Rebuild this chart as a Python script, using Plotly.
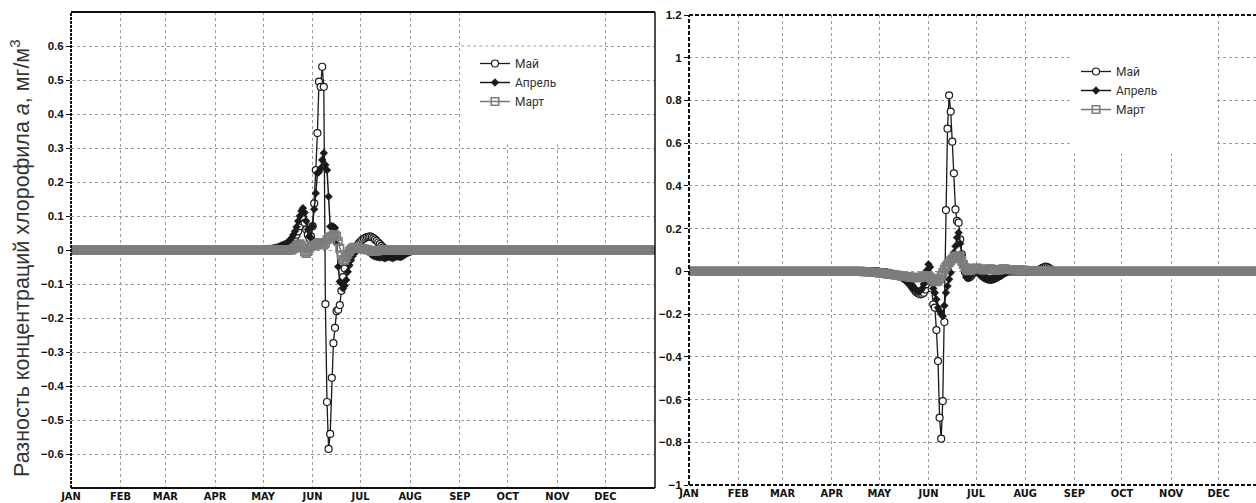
import plotly.graph_objects as go

# ---- calendar axis -------------------------------------------------------
N_DAYS = 365
MONTHS = ["JAN", "FEB", "MAR", "APR", "MAY", "JUN",
          "JUL", "AUG", "SEP", "OCT", "NOV", "DEC"]
MONTH_START = [0, 31, 59, 90, 120, 151, 181, 212, 243, 273, 304, 334]

# ---- left panel: daily differences, non-zero part only -------------------
may_left_start = 125
may_left = [0.001, 0.002, 0.002, 0.003, 0.004, 0.005, 0.006, 0.008, 0.01, 0.012,
            0.014, 0.016, 0.02, 0.024, 0.03,
            0.036, 0.045, 0.055, 0.07, 0.085, 0.095, 0.08, 0.06, 0.045, 0.035,
            0.04, 0.07,
            0.137, 0.235, 0.344, 0.495, 0.48, 0.539, 0.48,
            -0.159, -0.447, -0.585, -0.541, -0.376, -0.274, -0.229, -0.18, -0.176, -0.162,
            -0.12, -0.08, -0.054, -0.035, -0.02, -0.01, -0.004, 0.0, 0.003, 0.008,
            0.014, 0.02, 0.025, 0.03, 0.033, 0.036, 0.038, 0.039, 0.04, 0.038,
            0.035, 0.031, 0.027, 0.022, 0.017, 0.012, 0.008, 0.004, 0.0, -0.004,
            -0.007, -0.009, -0.01, -0.01, -0.009, -0.008, -0.006, -0.004, -0.002, 0.0]

apr_left_start = 120
apr_left = [0.001, 0.001, 0.002, 0.002, 0.003, 0.004, 0.005, 0.006, 0.007, 0.008,
            0.01, 0.012, 0.014, 0.016, 0.018, 0.021, 0.025, 0.03, 0.036, 0.045,
            0.055, 0.068, 0.085, 0.1, 0.115, 0.123, 0.11, 0.085, 0.06, 0.04,
            0.035, 0.07, 0.12, 0.167, 0.226, 0.23, 0.24, 0.265, 0.285, 0.25,
            0.235, 0.157, 0.069, 0.07, 0.069, 0.065, 0.02, -0.049, -0.093, -0.098,
            -0.113, -0.105, -0.088, -0.064, -0.045, -0.03, -0.018, -0.01, -0.004, 0.0,
            0.003, 0.005, 0.006, 0.005, 0.002, -0.002, -0.006, -0.01, -0.014, -0.017,
            -0.019, -0.02, -0.021, -0.022, -0.02, -0.022, -0.024, -0.023, -0.021, -0.02,
            -0.022, -0.024, -0.022, -0.02, -0.019, -0.02, -0.021, -0.019, -0.016, -0.013,
            -0.01, -0.008, -0.006, -0.004, -0.002, 0.0]

mar_left_start = 138
mar_left = [0.0, 0.004, 0.008, 0.012, 0.016, 0.018, 0.014, 0.005, -0.006, -0.01,
            -0.004, 0.006, 0.012, 0.014, 0.012, 0.015, 0.02, 0.022, 0.02, 0.016,
            0.015, 0.02, 0.03, 0.035, 0.038, 0.04, 0.045, 0.045, 0.04, 0.025,
            0.005, -0.015, -0.028, -0.03, -0.022, -0.012, -0.004, 0.002, 0.006, 0.008,
            0.008, 0.007, 0.006, 0.005, 0.004, 0.003, 0.002, 0.001, 0.0, -0.002,
            -0.003, -0.004, -0.004, -0.003, -0.002, -0.001, 0.0]

# ---- right panel ----------------------------------------------------------
may_right_start = 118
may_right = [-0.001, -0.002, -0.002, -0.003, -0.004, -0.005, -0.006, -0.007, -0.008, -0.01,
             -0.012, -0.014, -0.016, -0.018, -0.02, -0.023, -0.026, -0.03, -0.035, -0.04,
             -0.048, -0.056,
             -0.065, -0.075, -0.085, -0.095, -0.1, -0.105, -0.108, -0.105, -0.1, -0.085,
             -0.06, -0.04, -0.045, -0.08, -0.155, -0.17, -0.275, -0.42, -0.685, -0.783,
             -0.607, -0.237, 0.287, 0.668, 0.824, 0.748, 0.607, 0.459, 0.29, 0.236,
             0.228, 0.15, 0.08, 0.035, 0.0, -0.02, -0.03, -0.028, -0.02, -0.01,
             0.0, 0.005, 0.0, -0.008, -0.015, -0.022, -0.028, -0.032, -0.035, -0.037,
             -0.038, -0.037, -0.035, -0.032, -0.028, -0.024, -0.02, -0.015, -0.01, -0.006,
             -0.003, 0.0, 0.0, 0.0, 0.0, 0.0, 0.0, 0.0, 0.0, 0.0,
             0.0, 0.0, 0.0, 0.0, 0.0, 0.0, 0.0, 0.0, 0.0, 0.002,
             0.005, 0.008, 0.012, 0.016, 0.02, 0.022, 0.02, 0.015, 0.01, 0.005, 0.0]

apr_right_start = 120
apr_right = [-0.001, -0.002, -0.002, -0.003, -0.004, -0.005, -0.006, -0.008, -0.01, -0.012,
             -0.014, -0.017, -0.02, -0.024, -0.028, -0.033, -0.038, -0.044, -0.05, -0.058,
             -0.066, -0.075, -0.082, -0.088, -0.092, -0.094, -0.09, -0.08, -0.06, -0.03,
             0.005, 0.033, 0.02, -0.03, -0.08, -0.1, -0.131, -0.17, -0.186, -0.2,
             -0.209, -0.16, -0.1, -0.069, -0.037, -0.006, 0.064, 0.088, 0.118, 0.158,
             0.181, 0.13, 0.075, 0.025, -0.01, -0.028, -0.032, -0.026, -0.015, -0.005,
             0.002, 0.004, 0.0, -0.008, -0.016, -0.024, -0.03, -0.035, -0.038, -0.04,
             -0.041, -0.04, -0.038, -0.035, -0.031, -0.027, -0.022, -0.017, -0.012, -0.008,
             -0.004, -0.001, 0.0]

mar_right_start = 110
mar_right = [-0.001, -0.002, -0.002, -0.003, -0.003, -0.004, -0.004, -0.005, -0.005, -0.006,
             -0.007, -0.008, -0.009, -0.01, -0.011, -0.012, -0.013, -0.014, -0.015, -0.016,
             -0.017, -0.018, -0.019, -0.02, -0.021, -0.022, -0.023, -0.024, -0.025, -0.026,
             -0.027, -0.028, -0.029, -0.03, -0.03, -0.03, -0.028, -0.025, -0.022, -0.02,
             -0.02, -0.022, -0.028, -0.035, -0.042, -0.046, -0.048, -0.045, -0.035, -0.02,
             -0.005, 0.01, 0.022, 0.03, 0.04, 0.05, 0.058, 0.064, 0.07, 0.072,
             0.07, 0.062, 0.048, 0.032, 0.018, 0.008, 0.003, 0.004, 0.008, 0.012,
             0.014, 0.015, 0.014, 0.012, 0.01, 0.008, 0.007, 0.008, 0.01, 0.012,
             0.012, 0.01, 0.008, 0.006, 0.005, 0.006, 0.008, 0.01, 0.012, 0.012,
             0.01, 0.009, 0.009, 0.008, 0.008, 0.008, 0.007, 0.007, 0.006, 0.006,
             0.006, 0.005, 0.005, 0.004, 0.004, 0.004, 0.003, 0.003, 0.002, 0.002,
             0.002, 0.001, 0.001, 0.0, 0.0, 0.0]

SERIES_NAMES = ["Май", "Апрель", "Март"]


def daily(start, values):
    """Full-year daily series: zero outside the listed stretch."""
    out = [0.0] * N_DAYS
    for i, v in enumerate(values):
        out[start + i] = v
    return out


days = list(range(N_DAYS))

INK = "#1a1a1a"
GREY = "#7d7d7d"
STYLES = {
    "Май": dict(line=dict(color=INK, width=1.3),
                marker=dict(symbol="circle", size=7, color="white",
                            line=dict(color=INK, width=1.2))),
    "Апрель": dict(line=dict(color=INK, width=1.5),
                   marker=dict(symbol="diamond", size=6, color=INK,
                               line=dict(color=INK, width=0.5))),
    "Март": dict(line=dict(color=GREY, width=1.6),
                 marker=dict(symbol="square-open", size=7.5, color=GREY,
                             line=dict(color=GREY, width=1.6))),
}

panels = [
    ("x", "y", "legend",
     [daily(may_left_start, may_left), daily(apr_left_start, apr_left),
      daily(mar_left_start, mar_left)]),
    ("x2", "y2", "legend2",
     [daily(may_right_start, may_right), daily(apr_right_start, apr_right),
      daily(mar_right_start, mar_right)]),
]

fig = go.Figure()
for xa, ya, lg, series in panels:
    for name, vals in zip(SERIES_NAMES, series):
        fig.add_trace(go.Scatter(
            x=days, y=vals, name=name, mode="lines+markers",
            xaxis=xa, yaxis=ya, legend=lg, **STYLES[name]))

W, H = 1256, 503


def px_x(p):
    return p / W


def px_y(p):
    return 1 - p / H


tick_font_y = dict(family="Liberation Sans, Arial, sans-serif", size=11.5,
                   color="#111", weight="bold")
tick_font_x = dict(family="Liberation Sans Narrow, DejaVu Sans Condensed, Arial Narrow, sans-serif",
                   size=11, color="#111", weight="bold")
grid = dict(showgrid=True, gridcolor="#9a9a9a", gridwidth=1.2, griddash="dot",
            zeroline=False, showline=False, automargin=False)

left_y_vals = [-0.6, -0.5, -0.4, -0.3, -0.2, -0.1, 0, 0.1, 0.2, 0.3, 0.4, 0.5, 0.6]
right_y_vals = [-1, -0.8, -0.6, -0.4, -0.2, 0, 0.2, 0.4, 0.6, 0.8, 1, 1.2]


def fmt(v):
    s = f"{v:g}"
    return s.replace("-", "\u2212")


y_ticks = dict(ticks="outside", ticklen=4, tickcolor="#111", tickwidth=1.3)
x_ticks = dict(ticks="")

fig.update_layout(
    width=W, height=H,
    margin=dict(l=0, r=0, t=0, b=0),
    paper_bgcolor="white", plot_bgcolor="white",
    xaxis=dict(domain=[px_x(71), px_x(655)], range=[0, 365], anchor="y",
               tickvals=MONTH_START, ticktext=MONTHS, tickfont=tick_font_x,
               **x_ticks, **grid),
    yaxis=dict(domain=[px_y(488), px_y(12)], range=[-0.7, 0.7], anchor="x",
               tickvals=left_y_vals, ticktext=[fmt(v) for v in left_y_vals],
               tickfont=tick_font_y, **y_ticks, **grid),
    xaxis2=dict(domain=[px_x(689), 1.0], range=[0, 357.5], anchor="y2",
                tickvals=MONTH_START, ticktext=MONTHS, tickfont=tick_font_x,
                **x_ticks, **grid),
    yaxis2=dict(domain=[px_y(485), px_y(15)], range=[-1, 1.2], anchor="x2",
                tickvals=right_y_vals, ticktext=[fmt(v) for v in right_y_vals],
                tickfont=tick_font_y, **y_ticks, **grid),
    legend=dict(x=px_x(475), y=px_y(49), xanchor="left", yanchor="top",
                bgcolor="rgba(0,0,0,0)",
                font=dict(family="Roboto, Arial, sans-serif", size=12, color="#333")),
    legend2=dict(x=px_x(1076), y=px_y(57), xanchor="left", yanchor="top",
                 bgcolor="rgba(0,0,0,0)",
                 font=dict(family="Roboto, Arial, sans-serif", size=12, color="#333")),
    showlegend=True,
)

shapes = []
# blank patches under the legends
shapes.append(dict(type="rect", xref="x", yref="y", x0=244, x1=332.5, y0=0.31, y1=0.7,
                   fillcolor="white", line=dict(width=0), layer="between"))
shapes.append(dict(type="line", xref="x", yref="y", x0=244, x1=332.5, y0=0.6, y1=0.6,
                   line=dict(color="#9a9a9a", width=1.2, dash="dot"), layer="between"))
shapes.append(dict(type="rect", xref="x2", yref="y2", x0=240, x1=331, y0=0.55, y1=1.2,
                   fillcolor="white", line=dict(width=0), layer="between"))


# frames
def edge(xr, yr, x0, y0, x1, y1, dash="solid", width=2):
    return dict(type="line", xref=xr, yref=yr, x0=x0, y0=y0, x1=x1, y1=y1,
                line=dict(color="#111", width=width, dash=dash), layer="above")


shapes += [
    edge("x domain", "y domain", 0, 1, 1, 1),
    edge("x domain", "y domain", 0, 0, 1, 0),
    edge("x domain", "y domain", 1, 0, 1, 1, width=1.5),
    edge("x domain", "y domain", 0, 0, 0, 1, dash="3px,1px"),
    edge("x2 domain", "y2 domain", 0, 1, 1, 1, dash="4px,2px"),
    edge("x2 domain", "y2 domain", 0, 0, 1, 0, dash="4px,2px"),
    edge("x2 domain", "y2 domain", 0, 0, 0, 1, dash="4px,2px"),
]
fig.update_layout(shapes=shapes)

fig.add_annotation(
    text="Разность концентраций хлорофила <i>a</i>, мг/м<sup>3</sup>",
    xref="paper", yref="paper", x=px_x(20), y=px_y(258),
    xanchor="center", yanchor="middle", textangle=-90, showarrow=False,
    font=dict(family="Liberation Sans, Arial, sans-serif", size=21.5, color="#333"))

fig.write_html("out.html")
